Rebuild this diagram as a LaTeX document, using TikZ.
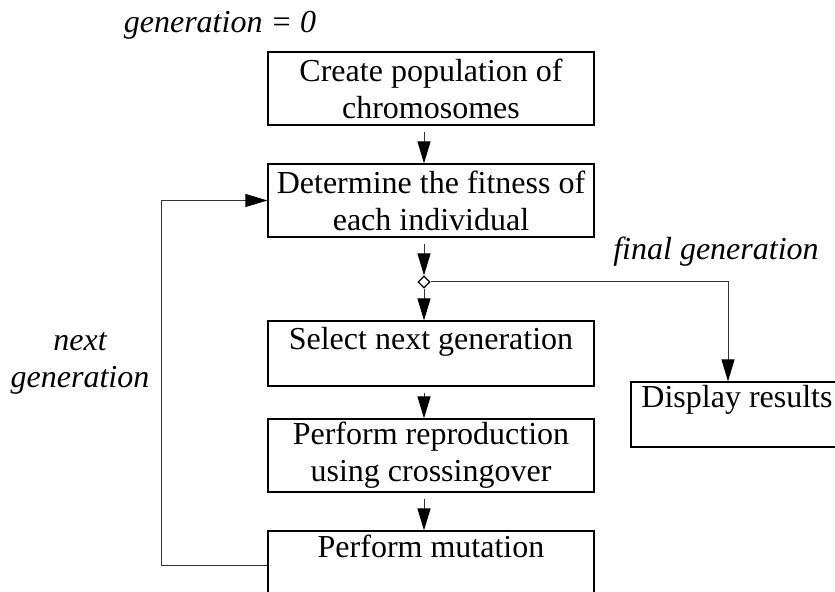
\documentclass[tikz,border=0pt]{standalone}
\usepackage{fontspec}
\setmainfont{Liberation Serif}
\usetikzlibrary{arrows.meta, shapes.geometric}

\tikzset{
	stepbox/.style = {draw = black, line width = 0.6pt, rectangle, inner sep = 0pt, minimum width = 163pt},
	twoline/.style = {stepbox, align = center, minimum height = 36.5pt},
	flow/.style = {draw = black!80, line width = 0.5pt, -{Triangle[length = 11pt, width = 6.5pt, color = black]}},
	downflow/.style = {flow, shorten < = 3pt},
	remark/.style = {font = \fontsize{16}{18.5}\selectfont\itshape, align = center}
}

\begin{document}
\begin{tikzpicture}[x = 0.5pt, y = -0.5pt, font = \fontsize{16}{18.5}\selectfont]
		\useasboundingbox (0, 0) rectangle (835, 592);
		\clip (0, 0) rectangle (835, 592);
		\node[remark] (gzero) at (220, 25) {generation = 0};
		\node[twoline] (create) at (431, 88.5) {Create population of\\chromosomes};
		\node[twoline] (fitness) at (431, 200.5) {Determine the fitness of\\each individual};
		\node[diamond, draw = black, fill = white, line width = 0.6pt, inner sep = 0pt, minimum width = 6pt, minimum height = 6pt] (branch) at (424, 282) {};
		\node[stepbox, text height = 14.5pt, text depth = 18pt] (select) at (431, 353.5) {Select next generation};
		\node[twoline] (reprod) at (431, 455.5) {Perform reproduction\\using crossingover};
		\node[stepbox, text height = 13.5pt, text depth = 21pt] (mutation) at (431, 565.5) {Perform mutation};
		\node[stepbox, minimum width = 106pt, text height = 13pt, text depth = 19.5pt] (display) at (737, 414.5) {Display results};
		\node[remark] (final) at (716, 252) {final generation};
		\node[remark] (next) at (80, 363.5) {next\\generation};
		\coordinate (turn) at (728, 282);
		\draw[downflow] (create.south -| branch) -- (fitness.north -| branch);
		\draw[downflow] (fitness.south -| branch) -- (branch.north);
		\draw[flow] (branch.south) -- (select.north -| branch);
		\draw[downflow] (select.south -| branch) -- (reprod.north -| branch);
		\draw[downflow] (reprod.south -| branch) -- (mutation.north -| branch);
		\draw[flow] (branch.east) -- (turn) -- (turn |- display.north);
		\draw[flow] (mutation.west) -- ++(-106, 0) |- (fitness.west);
\end{tikzpicture}
\end{document}
